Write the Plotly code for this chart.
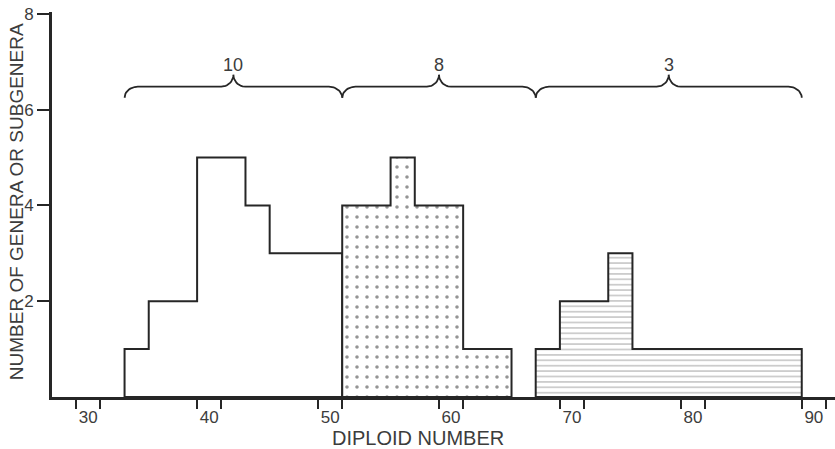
import numpy as np
import plotly.graph_objects as go

# 히스토그램 데이터 (구간 경계, 빈도)
edges_a = [33, 35, 39, 43, 45, 51]
counts_a = [1, 2, 5, 4, 3]

edges_b = [51, 55, 57, 61, 65]
counts_b = [4, 5, 4, 1]

edges_c = [67, 69, 73, 75, 89]
counts_c = [1, 2, 3, 1]

# 중괄호 구간과 라벨
brace_edges = [33, 51, 67, 89]
brace_labels = ["10", "8", "3"]

# 축 눈금
x_labels = [30, 40, 50, 60, 70, 80, 90]
x_tick_marks = [29, 31, 39, 41, 49, 51, 59, 61, 69, 71, 79, 81, 89, 91]
y_ticks = [2, 4, 6, 8]

INK = "#262626"
TEXT = "#3c3c3c"
FONT = "Liberation Sans"


def step_outline(edges, counts):
    """구간 경계/빈도로 닫힌 계단 다각형 좌표 생성"""
    xs, ys = [edges[0]], [0]
    for i, c in enumerate(counts):
        xs += [edges[i], edges[i + 1]]
        ys += [c, c]
    xs += [edges[-1], edges[0]]
    ys += [0, 0]
    return xs, ys


def quarter(xa, ya, xb, yb, n=14):
    # A: 수평 접선, B: 수직 접선
    t = np.linspace(0, np.pi / 2, n)
    return list(xa + (xb - xa) * np.sin(t)), list(yb + (ya - yb) * np.cos(t))


def brace(x0, x1, level=6.48, drop=0.23, rise=0.25, w_end=1.1, w_mid=1.0):
    m = (x0 + x1) / 2
    xs, ys = [], []
    qx, qy = quarter(x0 + w_end, level, x0, level - drop)
    xs += qx[::-1]; ys += qy[::-1]
    qx, qy = quarter(m - w_mid, level, m, level + rise)
    xs += qx; ys += qy
    qx, qy = quarter(m + w_mid, level, m, level + rise)
    xs += qx[::-1]; ys += qy[::-1]
    qx, qy = quarter(x1 - w_end, level, x1, level - drop)
    xs += qx; ys += qy
    return xs, ys, m, level + rise


fig = go.Figure()

# 그룹 A: 빈 칸
xa, ya = step_outline(edges_a, counts_a)
fig.add_trace(go.Scatter(
    x=xa, y=ya, mode="lines", fill="toself", fillcolor="white",
    line=dict(color=INK, width=2), hoverinfo="skip", showlegend=False
))

# 그룹 B: 점무늬
xb, yb = step_outline(edges_b, counts_b)
fig.add_trace(go.Scatter(
    x=xb, y=yb, mode="lines", fill="toself", fillcolor="white",
    fillpattern=dict(shape=".", size=10, solidity=0.1, fgcolor="#2a2a2a", bgcolor="white"),
    line=dict(color=INK, width=2), hoverinfo="skip", showlegend=False
))

# 그룹 C: 가로줄 무늬
xc, yc = step_outline(edges_c, counts_c)
fig.add_trace(go.Scatter(
    x=xc, y=yc, mode="lines", fill="toself", fillcolor="white",
    fillpattern=dict(shape="-", size=5.4, solidity=0.2, fgcolor="#555555", bgcolor="white"),
    line=dict(color=INK, width=2), hoverinfo="skip", showlegend=False
))

# 중괄호
bx, by = [], []
for i, label in enumerate(brace_labels):
    sx, sy, mx, my = brace(brace_edges[i], brace_edges[i + 1])
    bx += sx + [None]
    by += sy + [None]
    fig.add_annotation(x=mx, y=my, text=label, showarrow=False, yanchor="bottom",
                       yshift=-2, font=dict(family=FONT, size=18, color=TEXT))
fig.add_trace(go.Scatter(
    x=bx, y=by, mode="lines", line=dict(color=INK, width=1.8),
    hoverinfo="skip", showlegend=False
))

# 보조 x축용 빈 trace (눈금 표시용)
fig.add_trace(go.Scatter(x=[x_tick_marks[0]], y=[0], xaxis="x2", mode="markers",
                         marker=dict(opacity=0), hoverinfo="skip", showlegend=False))

x_range = [27.0, 91.75]

fig.update_layout(
    width=835, height=449,
    margin=dict(l=52, r=0, t=12, b=52),
    plot_bgcolor="white", paper_bgcolor="white",
    font=dict(family=FONT, color=TEXT),
    xaxis=dict(
        range=x_range, showgrid=False, zeroline=False,
        showline=True, linecolor=INK, linewidth=3,
        tickvals=x_labels, ticktext=[str(v) for v in x_labels],
        ticks="outside", ticklen=3, tickcolor="rgba(0,0,0,0)",
        tickfont=dict(family=FONT, size=17, color=TEXT),
    ),
    xaxis2=dict(
        range=x_range, overlaying="x", anchor="y", side="bottom",
        showgrid=False, zeroline=False, showline=False,
        tickvals=x_tick_marks, showticklabels=False,
        ticks="outside", ticklen=11, tickwidth=1.5, tickcolor=INK,
    ),
    yaxis=dict(
        range=[0, 8.04], showgrid=False, zeroline=False,
        showline=True, linecolor=INK, linewidth=3,
        tickvals=y_ticks, ticks="outside", ticklen=12, tickwidth=2, tickcolor=INK,
        tickfont=dict(family=FONT, size=17, color=TEXT),
    ),
)

# 축 제목
fig.add_annotation(text="NUMBER OF GENERA OR SUBGENERA", xref="paper", yref="paper",
                   x=0, y=0.506, xshift=-36, xanchor="center", yanchor="middle",
                   textangle=-90, showarrow=False,
                   font=dict(family=FONT, size=19, color=TEXT))
fig.add_annotation(text="DIPLOID NUMBER", xref="paper", yref="paper",
                   x=0.468, y=0, yshift=-41, xanchor="center", yanchor="middle",
                   showarrow=False, font=dict(family=FONT, size=20, color=TEXT))

# 기본 body 여백 제거, 모드바 숨김
fig.write_html("out.html", config={"displayModeBar": False},
               post_script="document.body.style.margin='0';document.body.style.overflow='hidden';")
